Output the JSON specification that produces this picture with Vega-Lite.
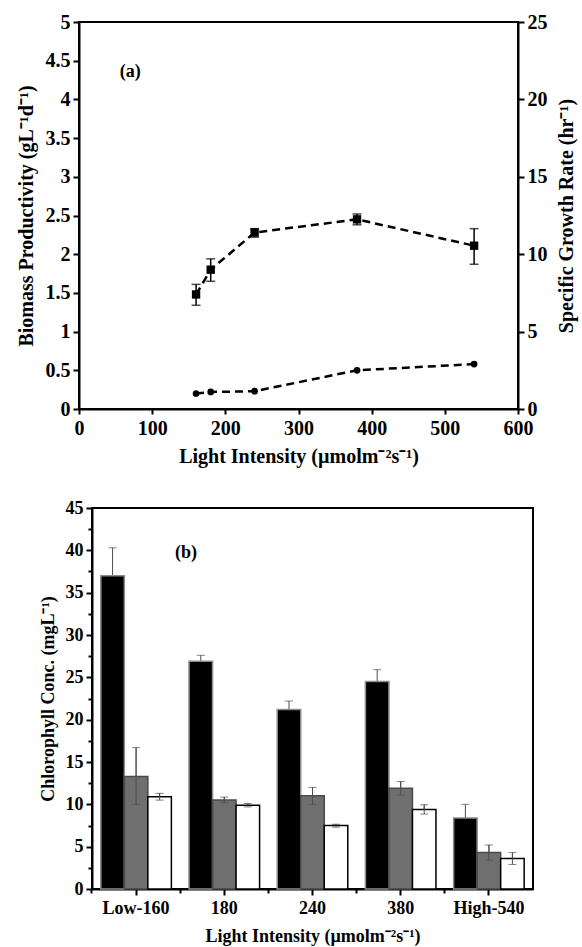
{
  "$schema": "https://vega.github.io/schema/vega-lite/v6.json",
  "background": "white",
  "padding": {"left": 15, "top": 11, "right": 2, "bottom": 2},
  "config": {
    "font": "Liberation Serif",
    "view": {"stroke": "black", "strokeWidth": 2},
    "axis": {
      "labelFont": "Liberation Serif", "labelFontWeight": "bold", "labelFontSize": 18, "labelColor": "black",
      "titleFont": "Liberation Serif", "titleFontWeight": "bold", "titleFontSize": 18, "titleColor": "black",
      "domainColor": "black", "domainWidth": 2, "tickColor": "black", "tickWidth": 2, "grid": false,
      "labelOverlap": false, "labelFlush": false
    }
  },
  "bounds": "flush",
  "spacing": 99,
  "vconcat": [
    {
      "width": 439,
      "height": 387,
      "data": {"values": [
        {"light": 160, "prod": 1.48, "prodLo": 1.34, "prodHi": 1.61, "growth": 1.0},
        {"light": 180, "prod": 1.80, "prodLo": 1.65, "prodHi": 1.94, "growth": 1.1},
        {"light": 240, "prod": 2.28, "prodLo": 2.22, "prodHi": 2.33, "growth": 1.15},
        {"light": 380, "prod": 2.45, "prodLo": 2.38, "prodHi": 2.52, "growth": 2.5},
        {"light": 540, "prod": 2.11, "prodLo": 1.87, "prodHi": 2.33, "growth": 2.9}
      ]},
      "layer": [
        {
          "layer": [
            {
              "mark": {"type": "line", "strokeDash": [8, 5], "strokeWidth": 2.5, "color": "black"},
              "encoding": {
                "x": {"field": "light", "type": "quantitative", "title": "Light Intensity (µmolm⁻²s⁻¹)",
                      "scale": {"domain": [0, 600], "nice": false},
                      "axis": {"values": [0, 100, 200, 300, 400, 500, 600], "tickSize": 5, "labelPadding": 4, "titlePadding": 8, "labelFontSize": 20, "titleFontSize": 20}},
                "y": {"field": "prod", "type": "quantitative", "title": "Biomass Productivity  (gL⁻¹d⁻¹)",
                      "scale": {"domain": [0, 5], "nice": false},
                      "axis": {"orient": "left", "values": [0, 0.5, 1, 1.5, 2, 2.5, 3, 3.5, 4, 4.5, 5], "format": "~g", "tickSize": 6, "labelPadding": 3, "titlePadding": 9, "labelFontSize": 20, "titleFontSize": 20}}
              }
            },
            {
              "mark": {"type": "rule", "color": "black", "strokeWidth": 1.5},
              "encoding": {
                "x": {"field": "light", "type": "quantitative", "title": "Light Intensity (µmolm⁻²s⁻¹)"},
                "y": {"field": "prodLo", "type": "quantitative", "title": "Biomass Productivity  (gL⁻¹d⁻¹)",
                      "scale": {"domain": [0, 5], "nice": false},
                      "axis": {"orient": "left", "values": [0, 0.5, 1, 1.5, 2, 2.5, 3, 3.5, 4, 4.5, 5], "format": "~g", "tickSize": 6, "labelPadding": 3, "titlePadding": 9, "labelFontSize": 20, "titleFontSize": 20}},
                "y2": {"field": "prodHi"}
              }
            },
            {
              "mark": {"type": "tick", "orient": "horizontal", "color": "black", "size": 9, "thickness": 1.5},
              "encoding": {
                "x": {"field": "light", "type": "quantitative", "title": "Light Intensity (µmolm⁻²s⁻¹)"},
                "y": {"field": "prodLo", "type": "quantitative", "title": "Biomass Productivity  (gL⁻¹d⁻¹)",
                      "scale": {"domain": [0, 5], "nice": false},
                      "axis": {"orient": "left", "values": [0, 0.5, 1, 1.5, 2, 2.5, 3, 3.5, 4, 4.5, 5], "format": "~g", "tickSize": 6, "labelPadding": 3, "titlePadding": 9, "labelFontSize": 20, "titleFontSize": 20}}
              }
            },
            {
              "mark": {"type": "tick", "orient": "horizontal", "color": "black", "size": 9, "thickness": 1.5},
              "encoding": {
                "x": {"field": "light", "type": "quantitative", "title": "Light Intensity (µmolm⁻²s⁻¹)"},
                "y": {"field": "prodHi", "type": "quantitative", "title": "Biomass Productivity  (gL⁻¹d⁻¹)",
                      "scale": {"domain": [0, 5], "nice": false},
                      "axis": {"orient": "left", "values": [0, 0.5, 1, 1.5, 2, 2.5, 3, 3.5, 4, 4.5, 5], "format": "~g", "tickSize": 6, "labelPadding": 3, "titlePadding": 9, "labelFontSize": 20, "titleFontSize": 20}}
              }
            },
            {
              "mark": {"type": "point", "shape": "square", "filled": true, "color": "black", "size": 70, "opacity": 1},
              "encoding": {
                "x": {"field": "light", "type": "quantitative", "title": "Light Intensity (µmolm⁻²s⁻¹)"},
                "y": {"field": "prod", "type": "quantitative", "title": "Biomass Productivity  (gL⁻¹d⁻¹)",
                      "scale": {"domain": [0, 5], "nice": false},
                      "axis": {"orient": "left", "values": [0, 0.5, 1, 1.5, 2, 2.5, 3, 3.5, 4, 4.5, 5], "format": "~g", "tickSize": 6, "labelPadding": 3, "titlePadding": 9, "labelFontSize": 20, "titleFontSize": 20}}
              }
            },
            {
              "data": {"values": [{"light": 70, "prod": 4.35, "t": "(a)"}]},
              "mark": {"type": "text", "font": "Liberation Serif", "fontWeight": "bold", "fontSize": 18, "color": "black"},
              "encoding": {
                "x": {"field": "light", "type": "quantitative", "title": "Light Intensity (µmolm⁻²s⁻¹)"},
                "y": {"field": "prod", "type": "quantitative", "title": "Biomass Productivity  (gL⁻¹d⁻¹)",
                      "scale": {"domain": [0, 5], "nice": false},
                      "axis": {"orient": "left", "values": [0, 0.5, 1, 1.5, 2, 2.5, 3, 3.5, 4, 4.5, 5], "format": "~g", "tickSize": 6, "labelPadding": 3, "titlePadding": 9, "labelFontSize": 20, "titleFontSize": 20}},
                "text": {"field": "t"}
              }
            }
          ]
        },
        {
          "layer": [
            {
              "mark": {"type": "line", "strokeDash": [8, 5], "strokeWidth": 2.5, "color": "black"},
              "encoding": {
                "x": {"field": "light", "type": "quantitative", "title": "Light Intensity (µmolm⁻²s⁻¹)"},
                "y": {"field": "growth", "type": "quantitative", "title": "Specific Growth Rate (hr⁻¹)",
                      "scale": {"domain": [0, 25], "nice": false},
                      "axis": {"orient": "right", "values": [0, 5, 10, 15, 20, 25], "tickSize": 6, "labelPadding": 3, "titlePadding": 9, "labelFontSize": 20, "titleFontSize": 20, "titleAngle": 270, "titleBaseline": "top"}}
              }
            },
            {
              "mark": {"type": "point", "shape": "circle", "filled": true, "color": "black", "size": 45, "opacity": 1},
              "encoding": {
                "x": {"field": "light", "type": "quantitative", "title": "Light Intensity (µmolm⁻²s⁻¹)"},
                "y": {"field": "growth", "type": "quantitative", "title": "Specific Growth Rate (hr⁻¹)",
                      "scale": {"domain": [0, 25], "nice": false},
                      "axis": {"orient": "right", "values": [0, 5, 10, 15, 20, 25], "tickSize": 6, "labelPadding": 3, "titlePadding": 9, "labelFontSize": 20, "titleFontSize": 20, "titleAngle": 270, "titleBaseline": "top"}}
              }
            }
          ]
        }
      ],
      "resolve": {"scale": {"y": "independent"}, "axis": {"y": "independent"}}
    },
    {
      "bounds": "flush",
      "spacing": 12,
      "hconcat": [
        {
          "width": 1,
          "height": 381,
          "view": {"stroke": null},
          "data": {"values": [{"a": 0}]},
          "mark": {"type": "point", "opacity": 0},
          "encoding": {}
        },
        {
          "width": 441,
          "height": 381,
          "data": {"values": [
            {"cat": "Low-160", "s": "A", "v": 37.0, "lo": 33.7, "hi": 40.3},
            {"cat": "Low-160", "s": "B", "v": 13.3, "lo": 10.0, "hi": 16.7},
            {"cat": "Low-160", "s": "C", "v": 10.9, "lo": 10.5, "hi": 11.3},
            {"cat": "180", "s": "A", "v": 26.9, "lo": 26.2, "hi": 27.6},
            {"cat": "180", "s": "B", "v": 10.5, "lo": 10.2, "hi": 10.85},
            {"cat": "180", "s": "C", "v": 9.9, "lo": 9.7, "hi": 10.1},
            {"cat": "240", "s": "A", "v": 21.2, "lo": 20.2, "hi": 22.2},
            {"cat": "240", "s": "B", "v": 11.0, "lo": 10.0, "hi": 12.0},
            {"cat": "240", "s": "C", "v": 7.5, "lo": 7.3, "hi": 7.65},
            {"cat": "380", "s": "A", "v": 24.5, "lo": 23.1, "hi": 25.9},
            {"cat": "380", "s": "B", "v": 11.9, "lo": 11.1, "hi": 12.7},
            {"cat": "380", "s": "C", "v": 9.4, "lo": 8.85, "hi": 9.95},
            {"cat": "High-540", "s": "A", "v": 8.4, "lo": 6.8, "hi": 10.0},
            {"cat": "High-540", "s": "B", "v": 4.3, "lo": 3.4, "hi": 5.2},
            {"cat": "High-540", "s": "C", "v": 3.6, "lo": 2.9, "hi": 4.3}
          ]},
          "layer": [
            {
              "encoding": {
                "x": {"field": "cat", "type": "nominal", "sort": ["Low-160", "180", "240", "380", "High-540"],
                      "title": "Light Intensity (µmolm⁻²s⁻¹)",
                      "scale": {"paddingInner": 0.2, "paddingOuter": 0.1},
                      "axis": {"orient": "bottom", "labelAngle": 0, "tickSize": 6, "labelPadding": 4, "titlePadding": 10}}
              },
              "layer": [
                {
                  "mark": {"type": "rule", "color": "#4d4d4d", "strokeWidth": 1},
                  "encoding": {
                    "xOffset": {"field": "s", "type": "nominal", "sort": ["A", "B", "C"]},
                    "y": {"field": "lo", "type": "quantitative", "title": "Chlorophyll Conc. (mgL⁻¹)",
                          "scale": {"domain": [0, 45], "nice": false},
                          "axis": {"values": [0, 2.5, 5, 7.5, 10, 12.5, 15, 17.5, 20, 22.5, 25, 27.5, 30, 32.5, 35, 37.5, 40, 42.5, 45],
                                   "labelExpr": "datum.value % 5 === 0 ? datum.label : ''", "format": "~g",
                                   "tickSize": {"condition": {"test": "datum.value % 5 === 0", "value": 6}, "value": 4},
                                   "labelPadding": 3, "titlePadding": 8}},
                    "y2": {"field": "hi"}
                  }
                },
                {
                  "mark": {"type": "tick", "orient": "horizontal", "color": "#4d4d4d", "size": 8, "thickness": 1},
                  "encoding": {
                    "xOffset": {"field": "s", "type": "nominal", "sort": ["A", "B", "C"]},
                    "y": {"field": "hi", "type": "quantitative", "title": "Chlorophyll Conc. (mgL⁻¹)",
                          "scale": {"domain": [0, 45], "nice": false},
                          "axis": {"values": [0, 2.5, 5, 7.5, 10, 12.5, 15, 17.5, 20, 22.5, 25, 27.5, 30, 32.5, 35, 37.5, 40, 42.5, 45],
                                   "labelExpr": "datum.value % 5 === 0 ? datum.label : ''", "format": "~g",
                                   "tickSize": {"condition": {"test": "datum.value % 5 === 0", "value": 6}, "value": 4},
                                   "labelPadding": 3, "titlePadding": 8}}
                  }
                },
                {
                  "mark": {"type": "bar", "strokeWidth": 1.5},
                  "encoding": {
                    "xOffset": {"field": "s", "type": "nominal", "sort": ["A", "B", "C"]},
                    "y": {"field": "v", "type": "quantitative", "title": "Chlorophyll Conc. (mgL⁻¹)",
                          "scale": {"domain": [0, 45], "nice": false},
                          "axis": {"values": [0, 2.5, 5, 7.5, 10, 12.5, 15, 17.5, 20, 22.5, 25, 27.5, 30, 32.5, 35, 37.5, 40, 42.5, 45],
                                   "labelExpr": "datum.value % 5 === 0 ? datum.label : ''", "format": "~g",
                                   "tickSize": {"condition": {"test": "datum.value % 5 === 0", "value": 6}, "value": 4},
                                   "labelPadding": 3, "titlePadding": 8}},
                    "color": {"field": "s", "type": "nominal", "scale": {"domain": ["A", "B", "C"], "range": ["#000000", "#6f6f6f", "#ffffff"]}, "legend": null},
                    "stroke": {"field": "s", "type": "nominal", "scale": {"domain": ["A", "B", "C"], "range": ["#8c8c8c", "#4a4a4a", "#000000"]}, "legend": null}
                  }
                },
                {
                  "transform": [{"filter": "datum.s !== 'A'"}],
                  "mark": {"type": "rule", "color": "#4d4d4d", "strokeWidth": 1},
                  "encoding": {
                    "xOffset": {"field": "s", "type": "nominal", "sort": ["A", "B", "C"]},
                    "y": {"field": "lo", "type": "quantitative", "title": "Chlorophyll Conc. (mgL⁻¹)",
                          "scale": {"domain": [0, 45], "nice": false},
                          "axis": {"values": [0, 2.5, 5, 7.5, 10, 12.5, 15, 17.5, 20, 22.5, 25, 27.5, 30, 32.5, 35, 37.5, 40, 42.5, 45],
                                   "labelExpr": "datum.value % 5 === 0 ? datum.label : ''", "format": "~g",
                                   "tickSize": {"condition": {"test": "datum.value % 5 === 0", "value": 6}, "value": 4},
                                   "labelPadding": 3, "titlePadding": 8}},
                    "y2": {"field": "hi"}
                  }
                },
                {
                  "transform": [{"filter": "datum.s !== 'A'"}],
                  "mark": {"type": "tick", "orient": "horizontal", "color": "#4d4d4d", "size": 8, "thickness": 1},
                  "encoding": {
                    "xOffset": {"field": "s", "type": "nominal", "sort": ["A", "B", "C"]},
                    "y": {"field": "lo", "type": "quantitative", "title": "Chlorophyll Conc. (mgL⁻¹)",
                          "scale": {"domain": [0, 45], "nice": false},
                          "axis": {"values": [0, 2.5, 5, 7.5, 10, 12.5, 15, 17.5, 20, 22.5, 25, 27.5, 30, 32.5, 35, 37.5, 40, 42.5, 45],
                                   "labelExpr": "datum.value % 5 === 0 ? datum.label : ''", "format": "~g",
                                   "tickSize": {"condition": {"test": "datum.value % 5 === 0", "value": 6}, "value": 4},
                                   "labelPadding": 3, "titlePadding": 8}}
                  }
                },
                {
                  "data": {"values": [{"cat": "Low-160", "v": 39.7, "t": "(b)"}]},
                  "mark": {"type": "text", "font": "Liberation Serif", "fontWeight": "bold", "fontSize": 18, "color": "black", "dx": 50},
                  "encoding": {
                    "y": {"field": "v", "type": "quantitative", "title": "Chlorophyll Conc. (mgL⁻¹)",
                          "scale": {"domain": [0, 45], "nice": false},
                          "axis": {"values": [0, 2.5, 5, 7.5, 10, 12.5, 15, 17.5, 20, 22.5, 25, 27.5, 30, 32.5, 35, 37.5, 40, 42.5, 45],
                                   "labelExpr": "datum.value % 5 === 0 ? datum.label : ''", "format": "~g",
                                   "tickSize": {"condition": {"test": "datum.value % 5 === 0", "value": 6}, "value": 4},
                                   "labelPadding": 3, "titlePadding": 8}},
                    "text": {"field": "t"}
                  }
                }
              ]
            },
            {
              "mark": {"type": "rule", "opacity": 0},
              "encoding": {
                "x": {"field": "cat", "type": "nominal", "sort": ["Low-160", "180", "240", "380", "High-540"],
                      "title": null,
                      "axis": {"orient": "bottom", "bandPosition": -0.125, "labels": false, "domain": false, "title": null, "tickSize": 4}}
              }
            }
          ],
          "resolve": {"axis": {"x": "independent"}}
        }
      ]
    }
  ]
}
